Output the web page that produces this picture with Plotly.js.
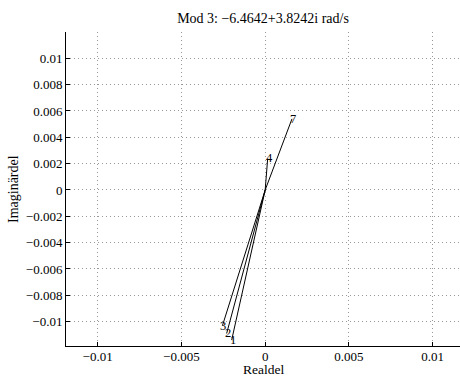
<!DOCTYPE html>
<html>
<head>
<meta charset="utf-8">
<script src="https://cdn.plot.ly/plotly-3.0.1.min.js"></script>
<style>html,body{margin:0;padding:0;background:#fff;overflow:hidden;}</style>
</head>
<body>
<div id="chart" style="width:460px;height:378px;"></div>
<script>
// Mode shape vectors (real part, imaginary part) per labelled node
const nodeLabels = ["1", "2", "3", "4", "7"];
const realParts = [-0.0020, -0.0023, -0.00255, 0.00015, 0.0016];
const imagParts = [-0.0114, -0.0109, -0.0103, 0.0024, 0.0054];

const xTickVals = [-0.01, -0.005, 0, 0.005, 0.01];
const xTickText = ["\u22120.01", "\u22120.005", "0", "0.005", "0.01"];
const yTickVals = [0.01, 0.008, 0.006, 0.004, 0.002, 0, -0.002, -0.004, -0.006, -0.008, -0.01];
const yTickText = ["0.01", "0.008", "0.006", "0.004", "0.002", "0", "\u22120.002", "\u22120.004", "\u22120.006", "\u22120.008", "\u22120.01"];

const titleText = "Mod 3: \u22126.4642+3.8242i rad/s";
const xLabel = "Realdel";
const yLabel = "Imaginärdel";

const lx = [], ly = [];
for (let i = 0; i < realParts.length; i++) {
  lx.push(0, realParts[i], null);
  ly.push(0, imagParts[i], null);
}

const fam = "Liberation Serif, Times New Roman, serif";
const font = {family: fam, size: 14, color: "#000"};
const labelFont = {family: fam, size: 13.5, color: "#000"};
const tickFont = {family: fam, size: 13, color: "#000"};
const nodeFont = {family: fam, size: 12.5, color: "#000"};

const traces = [
  {x: lx, y: ly, mode: "lines", line: {color: "#000", width: 1}, hoverinfo: "skip", showlegend: false},
];

const annotations = nodeLabels.map((t, i) => ({
  x: realParts[i], y: imagParts[i], xref: "x", yref: "y", text: t,
  showarrow: false, xanchor: "left", yanchor: "middle", font: nodeFont, xshift: -3,
  borderpad: 0
}));
annotations.push({
  text: xLabel, xref: "paper", x: 0.5, yref: "paper", y: -32/314, yanchor: "bottom", yshift: 0,
  showarrow: false, font: labelFont, borderpad: 0
});
annotations.push({
  text: yLabel, xref: "paper", x: -53/394, xanchor: "center", yref: "paper", y: 0.5,
  textangle: -90, showarrow: false, font: font, borderpad: 0
});

const axisCommon = {
  showline: true, linecolor: "#000", linewidth: 1, mirror: false,
  ticks: "inside", ticklen: 4, tickcolor: "#000", tickwidth: 1,
  showgrid: true, gridcolor: "#999", gridwidth: 1, griddash: "1px,3px",
  zeroline: false, tickfont: tickFont, fixedrange: true
};

const layout = {
  width: 460, height: 378,
  margin: {l: 66, r: 0, t: 32, b: 32, pad: 0},
  paper_bgcolor: "#fff", plot_bgcolor: "#fff",
  font: font,
  title: {text: titleText, font: font, x: 0.5, xref: "paper", y: 1 - 18/378, yref: "container", yanchor: "middle"},
  xaxis: Object.assign({}, axisCommon, {
    range: [-0.01189, 0.01163], tickvals: xTickVals, ticktext: xTickText, ticklabelstandoff: -2
  }),
  yaxis: Object.assign({}, axisCommon, {
    range: [-0.01185, 0.012], tickvals: yTickVals, ticktext: yTickText
  }),
  annotations: annotations,
  showlegend: false
};

Plotly.newPlot("chart", traces, layout, {staticPlot: true, displayModeBar: false});
</script>
</body>
</html>
